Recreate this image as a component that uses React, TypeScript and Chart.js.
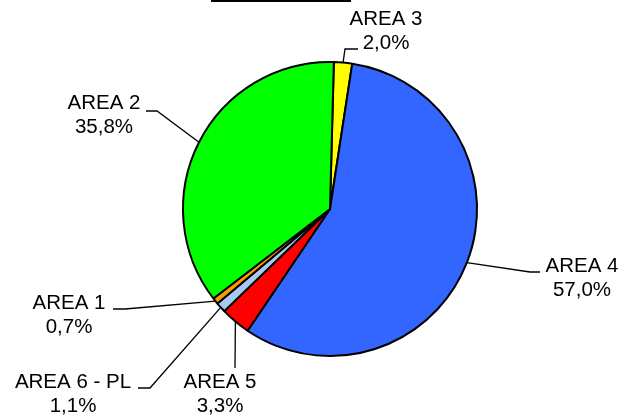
import React, { useEffect, useRef } from "react";
import { Chart, registerables } from "chart.js";

Chart.register(...registerables);

// ---- data ----
const categories = ["AREA 3", "AREA 4", "AREA 5", "AREA 6 - PL", "AREA 1", "AREA 2"];
const values = [2.0, 57.0, 3.3, 1.1, 0.7, 35.8];
const percentLabels = ["2,0%", "57,0%", "3,3%", "1,1%", "0,7%", "35,8%"];
const sliceColors = ["#FFFF00", "#3366FF", "#FF0000", "#A6CAF0", "#FF9900", "#00FF00"];

// ---- label layout (offsets from pie centre, px): elbow, line end, text centre x, first baseline y ----
const labelLayout = [
  { ex: 15, ey: -160, lx: 28, ly: -160, tx: 56, ty: -184 },
  { ex: 200, ey: 63, lx: 210, ly: 63, tx: 252, ty: 63 },
  { ex: -95, ey: 159, lx: -95, ly: 159, tx: -110, ty: 179 },
  { ex: -180, ey: 179, lx: -192, ly: 179, tx: -257, ty: 179 },
  { ex: -205, ey: 100, lx: -217, ly: 100, tx: -261, ty: 100 },
  { ex: -173, ey: -98, lx: -184, ly: -98, tx: -226, ty: -100 },
];

const FONT = '20.5px "Liberation Sans", Arial, sans-serif';
const LINE_GAP = 24;

const labelPlugin = {
  id: "leaderLabels",
  afterDraw(chart: any) {
    const ctx = chart.ctx;
    const meta = chart.getDatasetMeta(0);
    ctx.save();
    // title box remnant at top
    ctx.fillStyle = "#000";
    ctx.fillRect(211, 0, 140, 2);

    meta.data.forEach((arc: any, i: number) => {
      const p = arc.getProps(["x", "y", "startAngle", "endAngle", "outerRadius"], true);
      const mid = (p.startAngle + p.endAngle) / 2;
      const ax = p.x + Math.cos(mid) * p.outerRadius;
      const ay = p.y + Math.sin(mid) * p.outerRadius;
      const L = labelLayout[i];
      ctx.strokeStyle = "#000";
      ctx.lineWidth = 1.3;
      ctx.beginPath();
      ctx.moveTo(ax, ay);
      ctx.lineTo(p.x + L.ex, p.y + L.ey);
      ctx.lineTo(p.x + L.lx, p.y + L.ly);
      ctx.stroke();

      ctx.fillStyle = "#000";
      ctx.font = FONT;
      ctx.textAlign = "center";
      ctx.textBaseline = "alphabetic";
      ctx.fillText(categories[i], p.x + L.tx, p.y + L.ty);
      ctx.fillText(percentLabels[i], p.x + L.tx, p.y + L.ty + LINE_GAP);
    });
    ctx.restore();
  },
};

export default function App() {
  const ref = useRef<HTMLCanvasElement | null>(null);
  useEffect(() => {
    if (!ref.current) return;
    const chart = new Chart(ref.current, {
      type: "pie",
      data: {
        labels: categories,
        datasets: [
          {
            data: values,
            backgroundColor: sliceColors,
            borderColor: "#000",
            borderWidth: 2,
          },
        ],
      },
      options: {
        responsive: false,
        animation: false,
        rotation: 1.5,
        radius: 147,
        layout: { padding: { left: 37, right: 0, top: 2, bottom: 0 } },
        plugins: {
          legend: { display: false },
          tooltip: { enabled: false },
          title: { display: false },
        },
      },
      plugins: [labelPlugin],
    });
    return () => chart.destroy();
  }, []);
  return (
    <div style={{ position: "fixed", left: 0, top: 0, width: 623, height: 416, background: "#fff" }}>
      <canvas ref={ref} width={623} height={416} style={{ width: 623, height: 416 }} />
    </div>
  );
}
